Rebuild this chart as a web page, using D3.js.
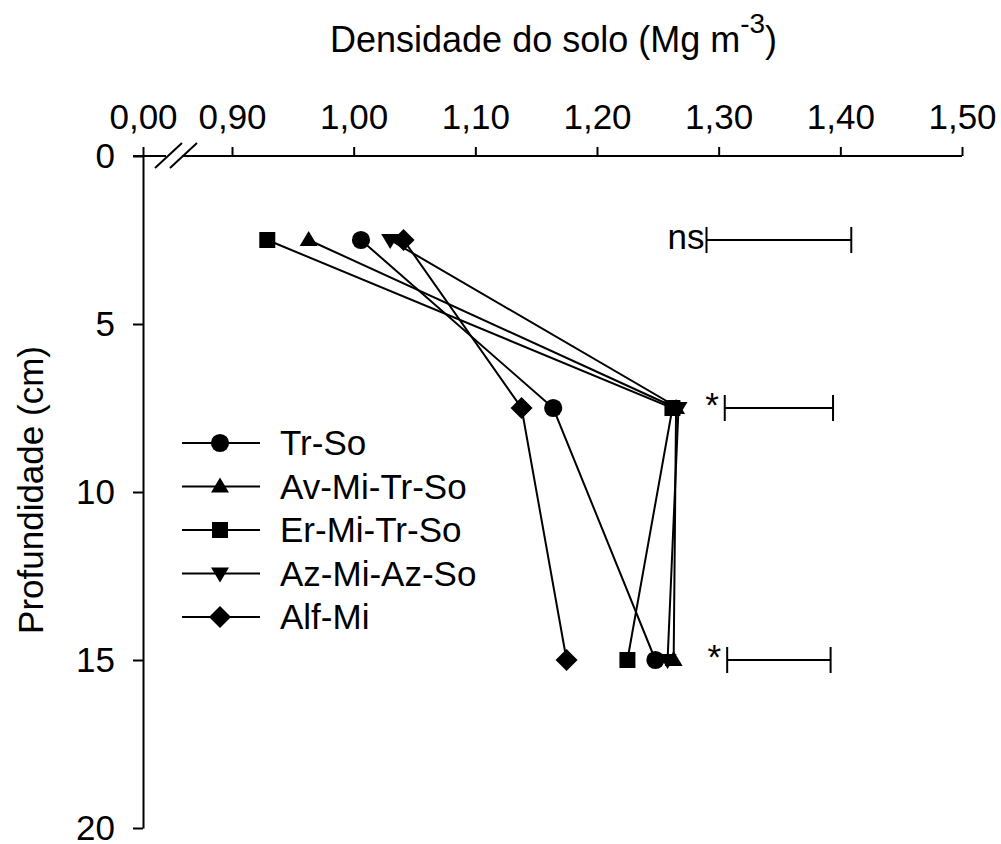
<!DOCTYPE html>
<html>
<head>
<meta charset="utf-8">
<script src="https://cdn.jsdelivr.net/npm/d3@7"></script>
<style>
  body { margin: 0; background: #fff; }
  text { font-family: "Liberation Sans", Arial, sans-serif; fill: #000; }
</style>
</head>
<body>
<div id="chart"></div>
<script>
// depths (cm) and density (Mg m-3) per system
const depths = [2.5, 7.5, 15];
const seriesNames = ["Tr-So", "Av-Mi-Tr-So", "Er-Mi-Tr-So", "Az-Mi-Az-So", "Alf-Mi"];
const trSo   = [1.006, 1.164, 1.248];
const avMi   = [0.963, 1.265, 1.263];
const erMi   = [0.929, 1.262, 1.225];
const azMi   = [1.030, 1.267, 1.258];
const alfMi  = [1.041, 1.138, 1.175];
const symbols = ["circle", "triangle", "square", "triangleDown", "diamond"];

// LSD bars: depth, start, end, label
const lsdDepth = [2.5, 7.5, 15];
const lsdStart = [1.290, 1.305, 1.307];
const lsdEnd   = [1.409, 1.394, 1.392];
const lsdLabel = ["ns", "*", "*"];

const xTicks = [0, 0.9, 1.0, 1.1, 1.2, 1.3, 1.4, 1.5];
const yTicks = [0, 5, 10, 15, 20];

const W = 1001, H = 844;
const FS = "35px";
const svg = d3.select("#chart").append("svg")
  .attr("width", W).attr("height", H);

// broken x scale: 0 sits on the y axis, then 0.90 .. 1.50
const x = d3.scaleLinear().domain([0, 0.9, 1.5]).range([143, 232, 962]);
const y = d3.scaleLinear().domain([0, 20]).range([156, 828]);

const loc = d3.formatLocale({decimal: ",", thousands: ".", grouping: [3], currency: ["", ""]});
const fmt = loc.format(".2f");

// x axis (top)
const xAxis = svg.append("g")
  .attr("transform", "translate(0," + y(0) + ")")
  .call(d3.axisTop(x).tickValues(xTicks).tickFormat(fmt).tickSize(9).tickSizeOuter(0).tickPadding(18));
xAxis.select(".domain").attr("d", "M133,0H962");
xAxis.selectAll("line, path").attr("stroke", "#000").attr("stroke-width", 2);
xAxis.selectAll("text").style("font-size", FS).attr("dy", 0);

// y axis (left)
const yAxis = svg.append("g")
  .attr("transform", "translate(" + x(0) + ",0)")
  .call(d3.axisLeft(y).tickValues(yTicks).tickSize(10).tickSizeOuter(0).tickPadding(18));
yAxis.selectAll("line, path").attr("stroke", "#000").attr("stroke-width", 2);
yAxis.selectAll("text").style("font-size", FS).attr("dy", "0.33em");

// axis break
svg.append("rect").attr("x", 166).attr("y", y(0) - 2).attr("width", 16).attr("height", 4).attr("fill", "#fff");
[[155, 182], [170, 197]].forEach(function(p) {
  svg.append("line")
    .attr("x1", p[0]).attr("y1", y(0) + 12)
    .attr("x2", p[1]).attr("y2", y(0) - 13)
    .attr("stroke", "#000").attr("stroke-width", 2);
});

// titles
const title = svg.append("text")
  .attr("x", 330).attr("y", 52)
  .style("font-size", "36px");
title.append("tspan").text("Densidade do solo (Mg m");
title.append("tspan").attr("dy", -19).style("font-size", "28px").text("-3");
title.append("tspan").attr("dy", 19).text(")");

svg.append("text")
  .attr("transform", "translate(43,490) rotate(-90)")
  .attr("text-anchor", "middle")
  .style("font-size", FS)
  .text("Profundidade (cm)");

// marker shapes
function symbolPath(kind) {
  if (kind === "circle") return d3.symbol(d3.symbolCircle, 260)();
  if (kind === "square") return d3.symbol(d3.symbolSquare, 256)();
  if (kind === "triangle") return "M0,-9L9,6L-9,6Z";
  if (kind === "triangleDown") return "M0,9L9,-6L-9,-6Z";
  if (kind === "diamond") return "M0,-11L11,0L0,11L-11,0Z";
}

const allSeries = [trSo, avMi, erMi, azMi, alfMi];
const line = d3.line().x(d => x(d[0])).y(d => y(d[1]));

allSeries.forEach(function(vals, i) {
  const pts = vals.map((v, j) => [v, depths[j]]);
  svg.append("path")
    .attr("d", line(pts))
    .attr("fill", "none").attr("stroke", "#000").attr("stroke-width", 2);
});
allSeries.forEach(function(vals, i) {
  svg.selectAll(null).data(vals).enter().append("path")
    .attr("d", symbolPath(symbols[i]))
    .attr("transform", (v, j) => "translate(" + x(v) + "," + y(depths[j]) + ")")
    .attr("fill", "#000");
});

// LSD bars
lsdDepth.forEach(function(d, i) {
  const g = svg.append("g").attr("stroke", "#000").attr("stroke-width", 2);
  const yy = y(d);
  g.append("line").attr("x1", x(lsdStart[i])).attr("x2", x(lsdEnd[i])).attr("y1", yy).attr("y2", yy);
  g.append("line").attr("x1", x(lsdStart[i])).attr("x2", x(lsdStart[i])).attr("y1", yy - 13).attr("y2", yy + 13);
  g.append("line").attr("x1", x(lsdEnd[i])).attr("x2", x(lsdEnd[i])).attr("y1", yy - 13).attr("y2", yy + 13);
  svg.append("text")
    .attr("x", x(lsdStart[i]) - (lsdLabel[i] === "ns" ? 2 : 6))
    .attr("y", yy + 9)
    .attr("text-anchor", "end")
    .style("font-size", FS)
    .text(lsdLabel[i]);
});

// legend
const legend = svg.append("g");
seriesNames.forEach(function(name, i) {
  const ly = 443 + i * 43.5;
  legend.append("line").attr("x1", 182).attr("x2", 260).attr("y1", ly).attr("y2", ly)
    .attr("stroke", "#000").attr("stroke-width", 2);
  legend.append("path").attr("d", symbolPath(symbols[i]))
    .attr("transform", "translate(220," + ly + ")").attr("fill", "#000");
  legend.append("text").attr("x", 280).attr("y", ly + 12)
    .style("font-size", FS).text(name);
});
</script>
</body>
</html>
